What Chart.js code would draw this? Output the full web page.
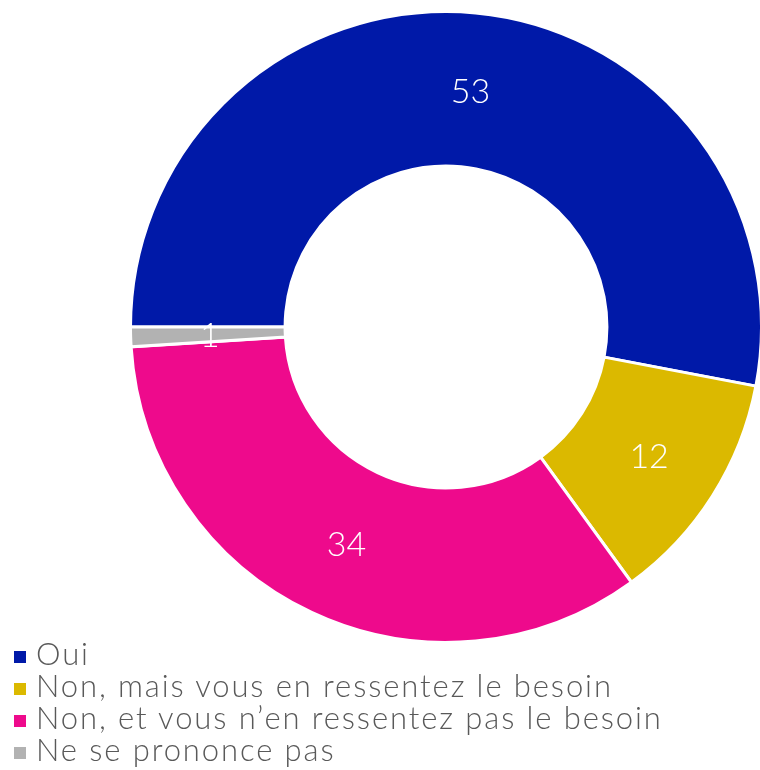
<!DOCTYPE html>
<html>
<head>
<meta charset="utf-8">
<script src="https://cdn.jsdelivr.net/npm/chart.js@4"></script>
<style>
    html, body { margin: 0; padding: 0; background: #fff; overflow: hidden; width: 760px; height: 770px; }
    .chart-box { position: absolute; left: 0; top: 10px; width: 892px; height: 634px; }
    .legend { position: absolute; left: 14px; top: 637px; font-family: 'Lato', sans-serif; font-weight: 300; font-size: 31px; letter-spacing: 1.9px; color: #595959; }
    .legend-item { height: 32px; line-height: 32px; white-space: nowrap; }
    .legend-box { display: inline-block; width: 12px; height: 12px; margin-right: 10px; vertical-align: 2px; }
</style>
</head>
<body>
<div class="chart-box"><canvas id="donutChart"></canvas></div>
<div class="legend" id="legend"></div>
<script>
// Chart data
const labels = ['Oui', 'Non, mais vous en ressentez le besoin', 'Non, et vous n\u2019en ressentez pas le besoin', 'Ne se prononce pas'];
const values = [53, 12, 34, 1];
const colors = ['#0019a8', '#dbb900', '#ee0a8c', '#b2b2b2'];

// Draw the value labels in the middle of each slice
const sliceLabels = {
    id: 'sliceLabels',
    afterDatasetsDraw(chart) {
        const ctx = chart.ctx;
        const meta = chart.getDatasetMeta(0);
        ctx.save();
        ctx.fillStyle = '#ffffff';
        ctx.font = '300 34px Lato, sans-serif';
        ctx.textAlign = 'center';
        ctx.textBaseline = 'middle';
        meta.data.forEach((arc, i) => {
            const pos = arc.tooltipPosition();
            ctx.fillText(String(values[i]), pos.x + 2, pos.y + 2);
        });
        ctx.restore();
    }
};

new Chart(document.getElementById('donutChart'), {
    type: 'doughnut',
    data: {
        labels: labels,
        datasets: [{
            data: values,
            backgroundColor: colors,
            borderColor: '#ffffff',
            borderWidth: 3,
            borderJoinStyle: 'miter'
        }]
    },
    options: {
        responsive: true,
        maintainAspectRatio: false,
        animation: false,
        rotation: -90,
        cutout: '51%',
        layout: { padding: 0 },
        plugins: {
            legend: { display: false },
            tooltip: { enabled: false }
        }
    },
    plugins: [sliceLabels]
});

// HTML legend, one item per line
const legendEl = document.getElementById('legend');
labels.forEach((label, i) => {
    const item = document.createElement('div');
    item.className = 'legend-item';
    item.innerHTML = '<span class="legend-box" style="background:' + colors[i] + '"></span>' + label;
    legendEl.appendChild(item);
});
</script>
</body>
</html>
